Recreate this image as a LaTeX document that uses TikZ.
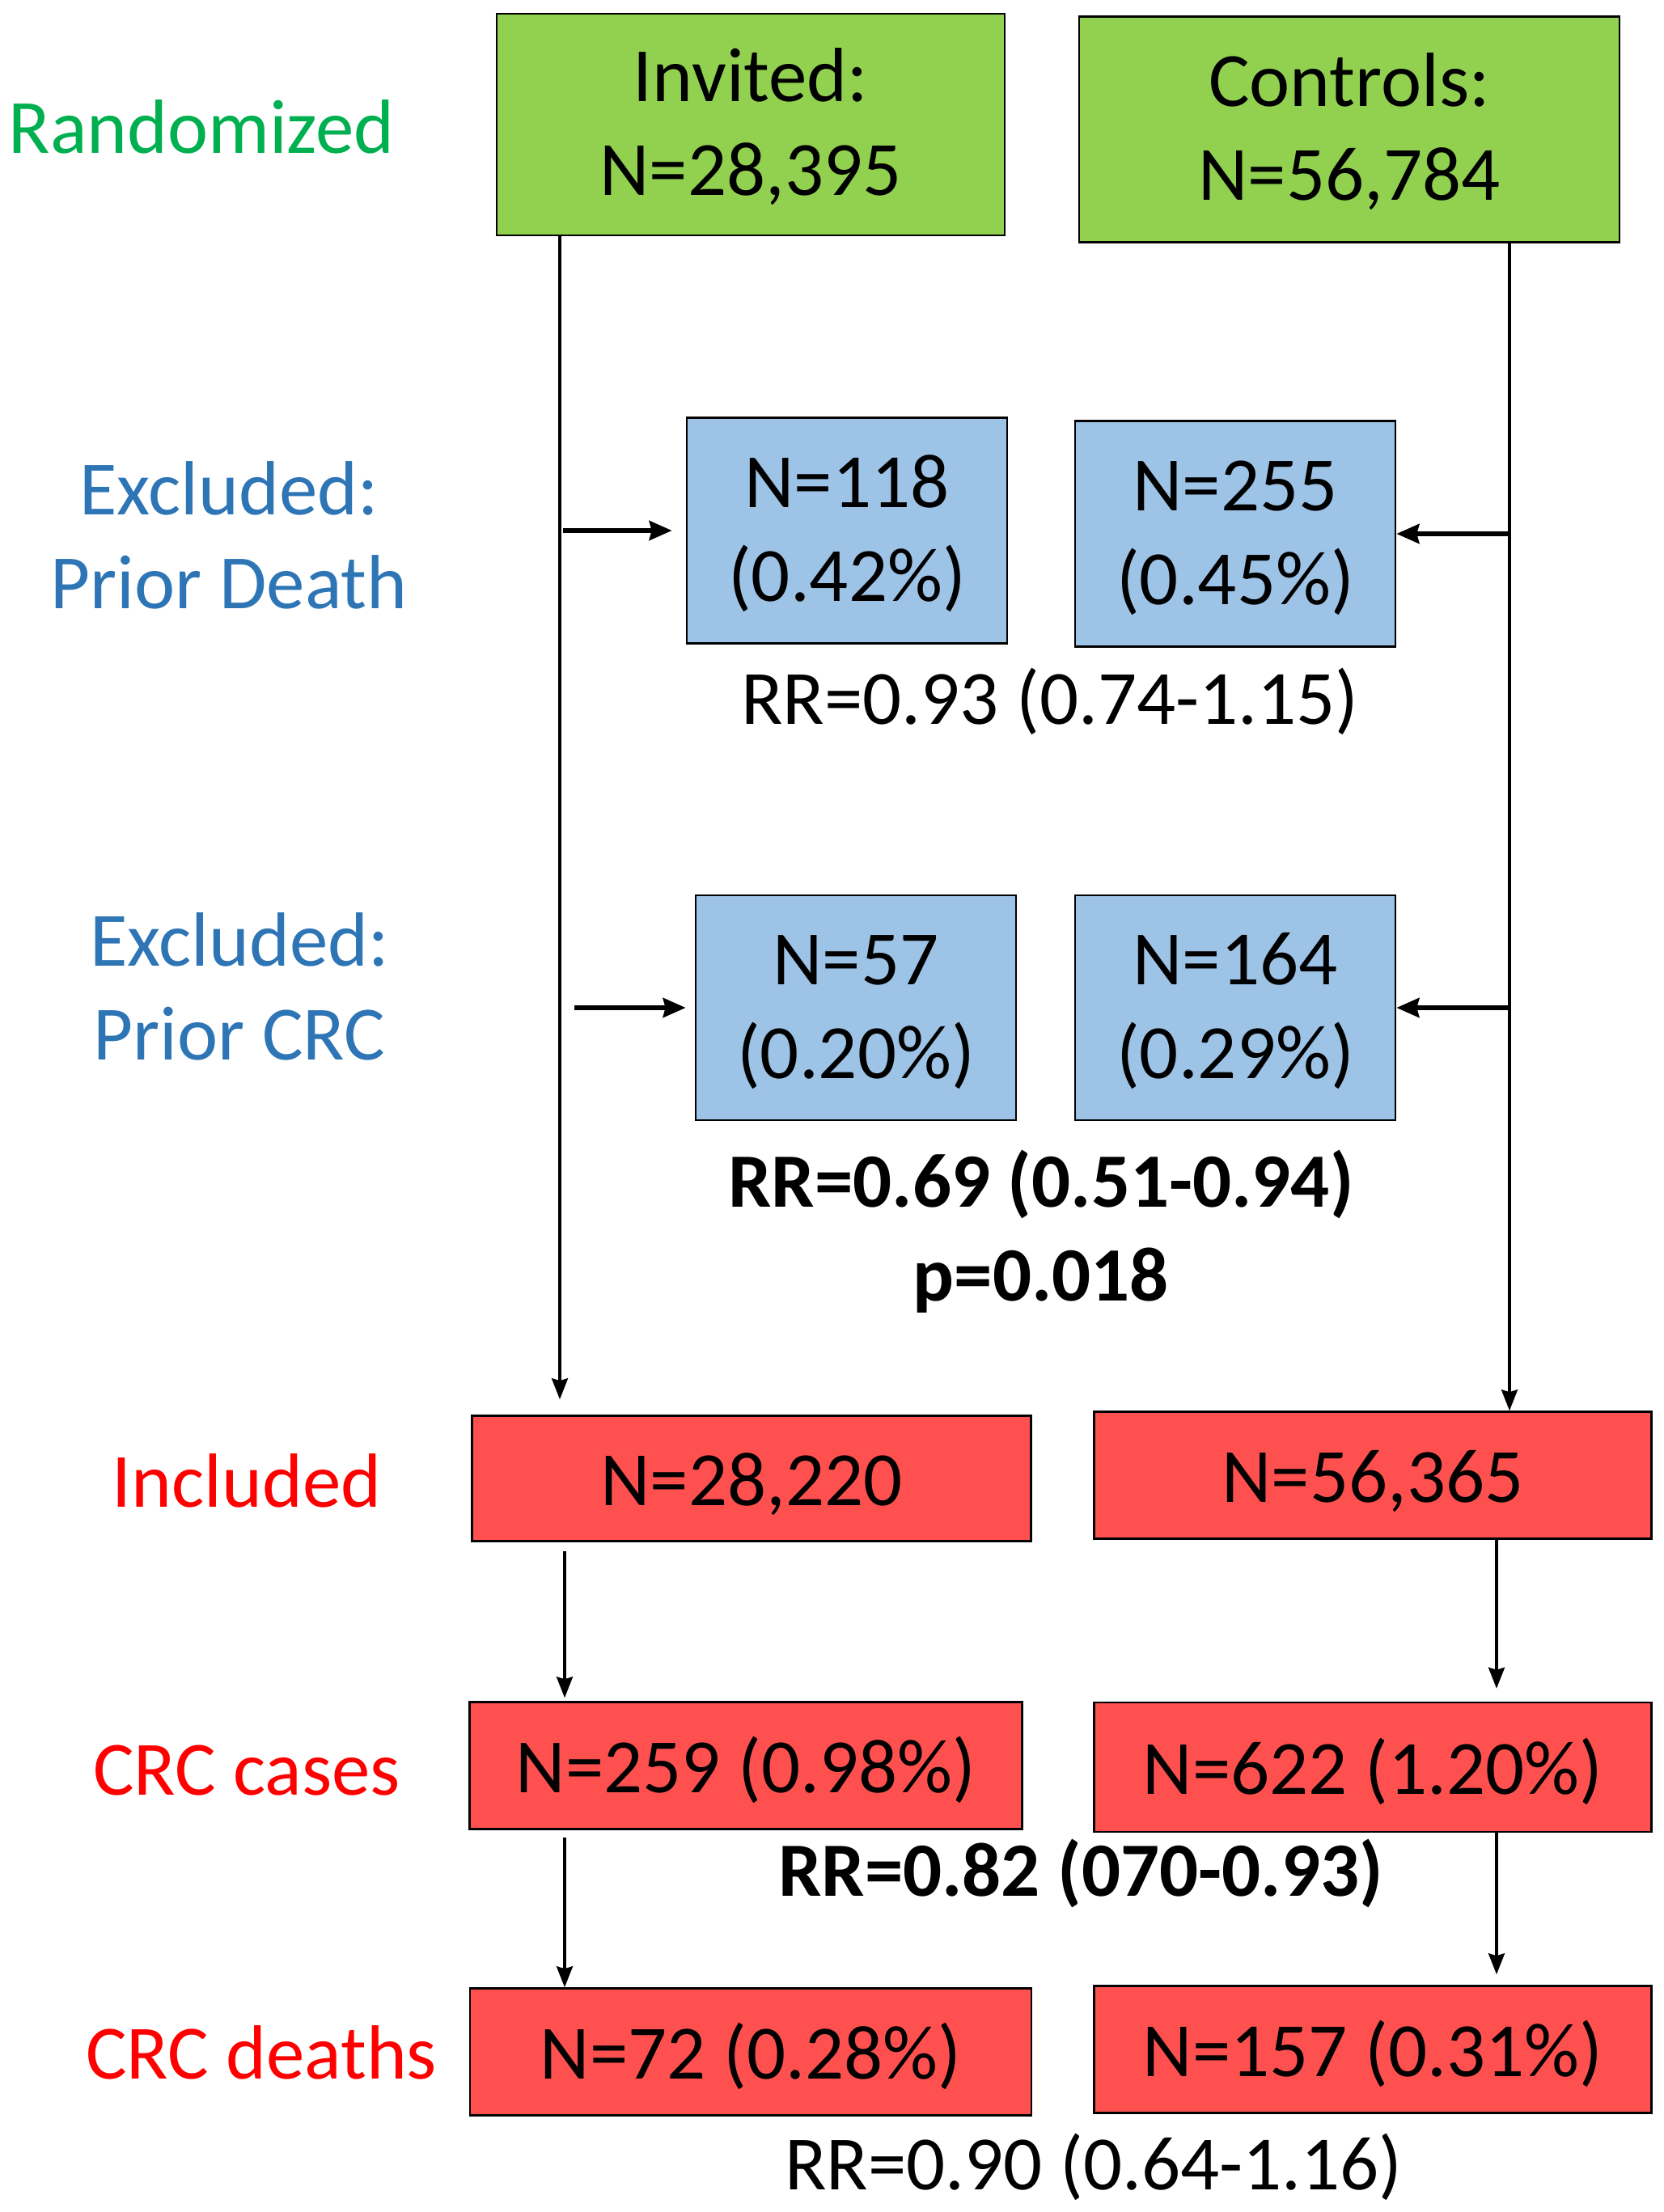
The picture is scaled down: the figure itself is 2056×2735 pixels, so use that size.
\documentclass[tikz,border=0pt]{standalone}
\usepackage{fontspec}
\setmainfont{Carlito}
\usepackage{xcolor}
\usetikzlibrary{arrows.meta,positioning}
\definecolor{grnfill}{HTML}{92D050}
\definecolor{blufill}{HTML}{9DC3E6}
\definecolor{redfill}{HTML}{FF5050}
\definecolor{grntext}{HTML}{00B050}
\definecolor{blutext}{HTML}{2E75B6}
\definecolor{redtext}{HTML}{FF0000}
\tikzset{
  bigtext/.style={font=\fontsize{27}{33}\selectfont},
  flowbox/.style={draw=black,line width=0.7pt,align=center,
                  inner sep=0pt,bigtext,
                  execute at begin node={\rule{0pt}{0.95cm}},
                  execute at end node={\rule[-0.29cm]{0pt}{0pt}}},
  twoline/.style={execute at begin node={\rule{0pt}{2.03cm}}},
  randbox/.style={flowbox,twoline,fill=grnfill},
  exclbox/.style={flowbox,twoline,fill=blufill,minimum width=3.96cm,minimum height=2.79cm},
  outbox/.style={flowbox,fill=redfill,minimum height=1.57cm},
  rowlabel/.style={align=center,bigtext},
  rrnote/.style={align=center,bigtext},
  flowarr/.style={-{Stealth[length=2.6mm,width=2mm,inset=0.3mm]},line width=1pt},
  sidearr/.style={-{Stealth[length=2.8mm,width=2.4mm,inset=0.3mm]},line width=1.5pt}
}

\begin{document}
\begin{tikzpicture}[x=0.01cm,y=-0.01cm]
  \useasboundingbox (0,0) rectangle (2056,2735);

  % row labels
  \node[rowlabel,text=grntext] (lrand) at (249,157) {Randomized};
  \node[rowlabel,text=blutext] (ldeath) at (283,662) {Excluded:\\Prior Death};
  \node[rowlabel,text=blutext] (lprior) at (296,1220) {Excluded:\\Prior CRC};
  \node[rowlabel,text=redtext] (lincl) at (305,1831) {Included};
  \node[rowlabel,text=redtext] (lcases) at (305,2189) {CRC cases};
  \node[rowlabel,text=redtext] (ldeaths) at (323,2538) {CRC deaths};

  % randomized arms
  \node[randbox,minimum width=6.28cm,minimum height=2.74cm] (inv) at (928,154) {Invited:\\N=28,395};
  \node[randbox,minimum width=6.68cm,minimum height=2.79cm] (ctl) at (1668,160) {Controls:\\N=56,784};

  % exclusions
  \node[exclbox] (dinv) at (1047,656) {N=118\\(0.42\%)};
  \node[exclbox] (dctl) at (1527,660) {N=255\\(0.45\%)};
  \node[rrnote] (rrdeath) at (1298,867) {RR=0.93 (0.74-1.15)};
  \node[exclbox,minimum height=2.78cm] (cinv) at (1058,1246) {N=57\\(0.20\%)};
  \node[exclbox,minimum height=2.78cm] (cctl) at (1527,1246) {N=164\\(0.29\%)};
  \node[rrnote,font=\fontsize{27}{33}\selectfont\bfseries] (rrprior) at (1287,1523) {RR=0.69 (0.51-0.94)\\p=0.018};

  % outcomes
  \node[outbox,minimum width=6.91cm,minimum height=1.55cm] (iinv) at (929,1828) {N=28,220};
  \node[outbox,minimum width=6.89cm] (ictl) at (1697,1824) {N=56,365};
  \node[outbox,minimum width=6.83cm] (kinv) at (922,2183) {N=259 (0.98\%)};
  \node[outbox,minimum width=6.89cm,minimum height=1.6cm] (kctl) at (1697,2185) {N=622 (1.20\%)};
  \node[rrnote,font=\fontsize{27}{33}\selectfont\bfseries] (rrcases) at (1336,2316) {RR=0.82 (070-0.93)};
  \node[outbox,minimum width=6.94cm] (minv) at (928,2537) {N=72 (0.28\%)};
  \node[outbox,minimum width=6.89cm] (mctl) at (1697,2534) {N=157 (0.31\%)};
  \node[rrnote] (rrdeaths) at (1352,2679) {RR=0.90 (0.64-1.16)};

  % spines
  \coordinate (lx) at (692,0);
  \coordinate (rx) at (1866,0);
  \coordinate (lx2) at (698,0);
  \coordinate (rx2) at (1850,0);
  \draw[flowarr,shorten >=0.19cm] (inv.south -| lx) -- (iinv.north -| lx);
  \draw[flowarr] (ctl.south -| rx) -- (ictl.north -| rx);
  \draw[sidearr,shorten <=0.04cm,shorten >=0.17cm] (lx |- dinv.west) -- (dinv.west);
  \draw[sidearr,shorten <=0.18cm,shorten >=0.11cm] (lx |- cinv.west) -- (cinv.west);
  \draw[sidearr] (rx |- dctl.east) -- (dctl.east);
  \draw[sidearr] (rx |- cctl.east) -- (cctl.east);

  % down the outcome rows
  \draw[flowarr,shorten <=0.11cm,shorten >=0.04cm] (iinv.south -| lx2) -- (kinv.north -| lx2);
  \draw[flowarr,shorten >=0.16cm] (ictl.south -| rx2) -- (kctl.north -| rx2);
  \draw[flowarr,shorten <=0.09cm] (kinv.south -| lx2) -- (minv.north -| lx2);
  \draw[flowarr,shorten >=0.13cm] (kctl.south -| rx2) -- (mctl.north -| rx2);
\end{tikzpicture}
\end{document}
